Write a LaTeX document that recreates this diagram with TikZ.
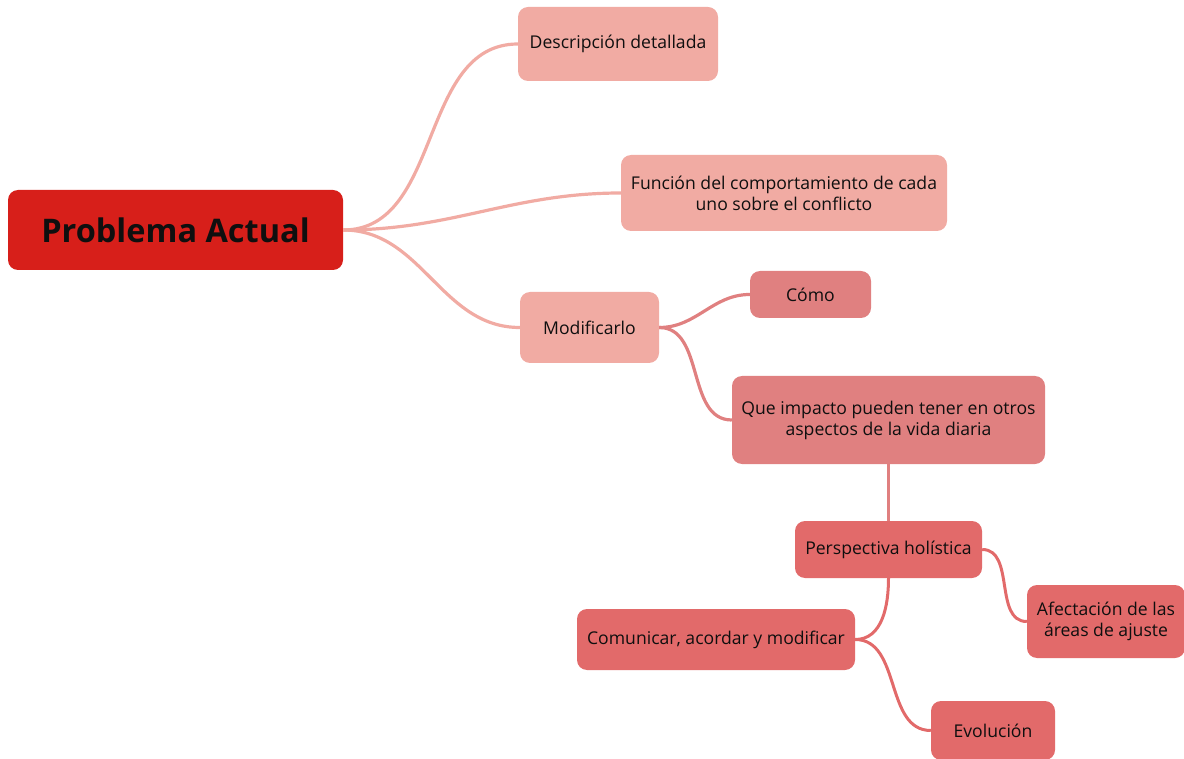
\documentclass[tikz,border=0pt]{standalone}
\usepackage{fontspec}
\setmainfont{Open Sans}
\definecolor{rootc}{RGB}{215,31,26}
\definecolor{lvla}{RGB}{241,171,163}
\definecolor{lvlb}{RGB}{224,128,128}
\definecolor{lvlc}{RGB}{226,106,106}
\definecolor{txt}{RGB}{15,15,15}
\begin{document}
\begin{tikzpicture}[x=1pt,y=-1pt,
  box/.style={rounded corners=10pt, inner sep=0pt, align=center, text=txt,
    font=\fontsize{17.6}{21}\selectfont},
  rootbox/.style={box, fill=rootc, font=\fontsize{32.5}{38}\bfseries\selectfont},
  boxa/.style={box, fill=lvla},
  boxb/.style={box, fill=lvlb},
  boxc/.style={box, fill=lvlc},
  linka/.style={draw=lvla, line width=3.2pt},
  linkb/.style={draw=lvlb, line width=3.2pt},
  linkc/.style={draw=lvlc, line width=3pt}]
\useasboundingbox (0,0) rectangle (1184,759);
\clip (0,0) rectangle (1184,759);
% nodes
\node[rootbox, minimum width=335pt, minimum height=80pt] (root) at (175.5,230) {Problema Actual};
\node[boxa, minimum width=200pt, minimum height=74pt] (desc) at (618,44) {Descripción detallada};
\node[boxa, minimum width=326pt, minimum height=76pt] (func) at (784,193) {Función del comportamiento de cada\\uno sobre el conflicto};
\node[boxa, minimum width=139pt, minimum height=71pt] (modif) at (589.5,327.5) {Modificarlo};
\node[boxb, minimum width=121pt, minimum height=47pt] (como) at (810.5,294.5) {Cómo};
\node[boxb, minimum width=313pt, minimum height=88pt] (que) at (888.5,420) {Que impacto pueden tener en otros\\aspectos de la vida diaria};
\node[boxc, minimum width=187pt, minimum height=57pt] (persp) at (888.5,549.5) {Perspectiva holística};
\node[boxc, minimum width=158pt, minimum height=73pt] (afect) at (1106,621.5) {Afectación de las\\áreas de ajuste};
\node[boxc, minimum width=278pt, minimum height=61pt] (comm) at (716,639.5) {Comunicar, acordar y modificar};
\node[boxc, minimum width=124pt, minimum height=59pt] (evol) at (993,730.5) {Evolución};
% connectors
\path[linka] (root.east) to[out=0,in=180] (desc.west);
\path[linka] (root.east) to[out=0,in=180] (func.west);
\path[linka] (root.east) to[out=0,in=180] (modif.west);
\path[linkb] (modif.east) to[out=0,in=180] (como.west);
\path[linkb] (modif.east) to[out=0,in=180] (que.west);
\path[linkb] (que.south) -- (persp.north);
\path[linkc] (persp.east) to[out=0,in=180] (afect.west);
\path[linkc] (persp.south) to[out=-90,in=0] (comm.east);
\path[linkc] (comm.east) to[out=0,in=180] (evol.west);
\end{tikzpicture}
\end{document}
